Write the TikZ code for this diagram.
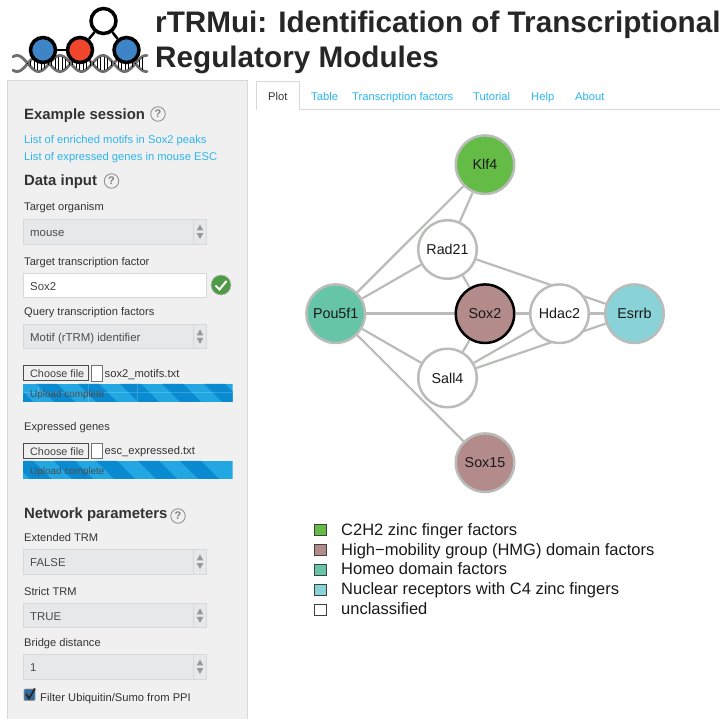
\documentclass[tikz,border=0pt]{standalone}
\usepackage{fontspec}
\setmainfont{Liberation Sans}
\usetikzlibrary{backgrounds}
\definecolor{panelbg}{HTML}{F0F0F0}
\definecolor{panelln}{HTML}{D8D8D8}
\definecolor{selbg}{HTML}{E6E8EA}
\definecolor{selln}{HTML}{D6D8DA}
\definecolor{ink}{HTML}{333333}
\definecolor{linkc}{HTML}{2BB5EE}
\definecolor{edgec}{HTML}{B9BCB9}
\definecolor{tfgreen}{HTML}{64BC46}
\definecolor{tfhmg}{HTML}{B38B8A}
\definecolor{tfhomeo}{HTML}{66C5A8}
\definecolor{tfnr}{HTML}{89D2D8}
\definecolor{barlight}{HTML}{22A7E2}
\definecolor{bardark}{HTML}{0A8AD0}
\definecolor{logoblue}{HTML}{3D85C6}
\definecolor{logored}{HTML}{F0452B}
\definecolor{okgreen}{HTML}{4E9A47}
\definecolor{helix}{HTML}{6E6E6E}
\newcommand{\fsz}[1]{\fontsize{#1}{#1}\selectfont}
\tikzset{
  x=1pt,y=-1pt,
  txt/.style={inner sep=0pt,anchor=base west,yshift=-1pt,text=ink,font=\fsz{11.1}},
  hd/.style={txt,font=\fsz{14.9}\bfseries},
  lnk/.style={txt,text=linkc,font=\fsz{11.2}},
  tab/.style={txt,text=linkc,font=\fsz{11.2}},
  titletxt/.style={inner sep=0pt,anchor=base west,text=black!85,font=\fsz{29.7}\bfseries},
  tf/.style={circle,draw=edgec,line width=2.5pt,minimum size=58.5pt,inner sep=0pt,font=\fsz{14.3},text=black!90},
  edgeline/.style={draw=edgec,line width=2.2pt},
  edgethick/.style={draw=edgec,line width=3pt},
  legbox/.style={draw=black!75,line width=.8pt,minimum width=12.5pt,minimum height=11pt,inner sep=0pt},
  legtxt/.style={inner sep=0pt,anchor=base west,text=black!90,font=\fsz{16.5}},
  logonode/.style={circle,draw=black,line width=3.5pt,minimum size=25pt,inner sep=0pt},
  helpmark/.style={circle,draw=black!45,fill=panelbg,line width=.8pt,minimum size=14.5pt,inner sep=0pt,font=\fsz{11}\bfseries,text=black!50},
  btn/.style={draw=black!70,fill=panelbg,line width=.8pt},
}
\newcommand{\selbox}[4]{% name, top, bottom, text
  \draw[fill=selbg,draw=selln,line width=.9pt] (23.5,#2) rectangle (206.7,#3);
  \draw[selln,line width=.9pt] (193,#2) -- (193,#3);
  \pgfmathsetmacro{\ymid}{(#2+#3)/2}
  \fill[black!40] (196.7,\ymid-1.3) -- (203.3,\ymid-1.3) -- (200,\ymid-7.3) -- cycle;
  \fill[black!40] (196.7,\ymid+1.3) -- (203.3,\ymid+1.3) -- (200,\ymid+7.3) -- cycle;
  \node[txt,text=black!70,font=\fsz{11.4}] (#1) at (30,\ymid+3.5) {#4};
}
\newcommand{\upbar}[4]{% name, top, phase, extra drawing under the text
  \begin{scope}
    \clip (23,#2) rectangle (232.7,#2+18);
    \fill[barlight] (23,#2) rectangle (232.7,#2+18);
    \foreach \k in {0,...,5} {
      \fill[bardark] ({#3+\k*42},#2) -- ++(21,0) -- ++(18,18) -- ++(-21,0) -- cycle;
    }
    #4
  \end{scope}
  \node[txt,text=black!70,font=\fsz{9.9}] (#1) at (30,#2+12.5) {Upload complete};
}
\begin{document}
\begin{tikzpicture}
\useasboundingbox (0,0) rectangle (724,719);
% logo
\draw[helix,line width=2.8pt,line cap=round,domain=13:147,samples=120,smooth] plot (\x,{63.5-8*cos((\x-60)*8.372)});
\draw[helix,line width=2.8pt,line cap=round,domain=13:147,samples=120,smooth] plot (\x,{63.5+8*cos((\x-60)*8.372)});
\foreach \xx in {27,30.5,...,143} {
  \draw[black,line width=.6pt] (\xx,{63.5-7*abs(cos((\xx-60)*8.372))}) -- (\xx,{63.5+7*abs(cos((\xx-60)*8.372))});
}
\node[logonode,fill=white] (lgtop) at (103.5,21) {};
\node[logonode,fill=logoblue] (lga) at (43,50) {};
\node[logonode,fill=logored] (lgb) at (80,50) {};
\node[logonode,fill=logoblue] (lgc) at (126.5,50) {};
\draw[black,line width=2.5pt] (lga) -- (lgb);
\draw[black,line width=2.5pt] (lgb) -- (lgtop);
\draw[black,line width=2.5pt] (lgc) -- (lgtop);
% title
\node[titletxt] (t1) at (155,33) {rTRMui: Identification of Transcriptional};
\node[titletxt] (t2) at (155,68) {Regulatory Modules};
% panel
\draw[fill=panelbg,draw=panelln,line width=1pt] (7.5,719.5) -- (7.5,81) -- (247.7,81) -- (247.7,719.5);
\node[hd] (h1) at (24,119) {Example session};
\node[helpmark] (q1) at (158,114) {?};
\node[lnk] (l1) at (24,143) {List of enriched motifs in Sox2 peaks};
\node[lnk] (l2) at (24,160) {List of expressed genes in mouse ESC};
\node[hd] (h2) at (24,185) {Data input};
\node[helpmark] (q2) at (111.5,181) {?};
\node[txt] (c1) at (24,210) {Target organism};
\selbox{s1}{219.5}{244}{mouse}
\node[txt] (c2) at (24,265) {Target transcription factor};
\draw[fill=white,draw=selln,line width=.9pt] (23.5,273) rectangle (206.7,297);
\node[txt,text=black!75,font=\fsz{11.4}] (v2) at (30,289.5) {Sox2};
\node[circle,fill=okgreen,draw=black!25,line width=.6pt,minimum size=20pt,inner sep=0pt] (ok) at (221,285) {};
\draw[white,line width=2pt] (215.5,285.5) -- (219.5,289.5) -- (226.5,281);
\node[txt] (c3) at (24,315) {Query transcription factors};
\selbox{s3}{324.5}{348.7}{Motif (rTRM) identifier}
\draw[btn] (23.5,365.5) rectangle (88,380.7);
\node[txt,text=black!75,font=\fsz{10.8}] (b1) at (30,376.5) {Choose file};
\draw[draw=black!55,fill=white,line width=.8pt] (91.5,365.5) rectangle (102.2,381);
\node[txt,font=\fsz{11.2}] (f1) at (104.5,376.5) {sox2\_motifs.txt};
\upbar{u1}{384}{-6}{\draw[white,opacity=.18,line width=.5pt] (38,384) -- (38,402) (88,384) -- (88,402) (137,384) -- (137,402) (23,392.7) -- (232.7,392.7);}
\node[txt] (c4) at (24,430) {Expressed genes};
\draw[btn] (23.5,443.5) rectangle (88,458.7);
\node[txt,text=black!75,font=\fsz{10.8}] (b2) at (30,454.5) {Choose file};
\draw[draw=black!55,fill=white,line width=.8pt] (91.5,443.5) rectangle (102.2,458.7);
\node[txt,font=\fsz{11.2}] (f2) at (104.5,454) {esc\_expressed.txt};
\upbar{u2}{461}{-30}{}
\node[hd] (h3) at (24,518) {Network parameters};
\node[helpmark] (q3) at (178,516) {?};
\node[txt] (c5) at (24,541) {Extended TRM};
\selbox{s5}{549.5}{574}{FALSE}
\node[txt] (c6) at (24,595) {Strict TRM};
\selbox{s6}{603.5}{627.7}{TRUE}
\node[txt] (c7) at (24,646) {Bridge distance};
\selbox{s7}{654.5}{679}{1}
\draw[fill=logoblue!80!black,draw=black!40,line width=.6pt,rounded corners=1pt] (24,689) rectangle (35,700.5);
\draw[black!85,line width=1.8pt] (26,694) -- (29,698.5) -- (35,688.5);
\node[txt,font=\fsz{11.2}] (c8) at (40,700) {Filter Ubiquitin/Sumo from PPI};
% tabs
\draw[panelln,line width=1pt] (299.5,110) -- (720,110);
\draw[panelln,line width=1pt] (256,110) -- (256,82) -- (299.5,82) -- (299.5,110);
\node[txt,font=\fsz{11.2}] (tb0) at (268,100) {Plot};
\node[tab] (tb1) at (311,100) {Table};
\node[tab] (tb2) at (352,100) {Transcription factors};
\node[tab] (tb3) at (473,100) {Tutorial};
\node[tab] (tb4) at (531,100) {Help};
\node[tab] (tb5) at (575,100) {About};
% network
\node[tf,fill=tfgreen] (klf) at (485,164.7) {Klf4};
\node[tf,fill=white] (rad) at (447.5,249.5) {Rad21};
\node[tf,fill=tfhomeo] (pou) at (335.7,313.7) {Pou5f1};
\node[tf,fill=tfhmg,draw=black] (sox) at (485,313.7) {Sox2};
\node[tf,fill=white] (hda) at (559.5,313.7) {Hdac2};
\node[tf,fill=tfnr] (esr) at (634.5,313.7) {Esrrb};
\node[tf,fill=white] (sal) at (447.5,378) {Sall4};
\node[tf,fill=tfhmg] (s15) at (485,462.7) {Sox15};
\begin{pgfonlayer}{background}
\draw[edgeline] (pou) -- (klf);
\draw[edgeline] (rad) -- (klf);
\draw[edgeline] (pou) -- (rad);
\draw[edgeline] (rad) -- (sox);
\draw[edgeline] (rad) -- (esr);
\draw[edgethick] (pou) -- (sox);
\draw[edgethick] (sox) -- (esr);
\draw[edgeline] (pou) -- (sal);
\draw[edgeline] (pou) -- (s15);
\draw[edgeline] (sal) -- (sox);
\draw[edgeline] (sal) -- (hda);
\draw[edgeline] (sal) -- (esr);
\end{pgfonlayer}
% legend
\node[legbox,fill=tfgreen] (k1) at (320.5,530) {};
\node[legtxt] (n1) at (341,535.5) {C2H2 zinc finger factors};
\node[legbox,fill=tfhmg] (k2) at (320.5,549.5) {};
\node[legtxt] (n2) at (341,555.5) {High−mobility group (HMG) domain factors};
\node[legbox,fill=tfhomeo] (k3) at (320.5,569.5) {};
\node[legtxt] (n3) at (341,575) {Homeo domain factors};
\node[legbox,fill=tfnr] (k4) at (320.5,589.5) {};
\node[legtxt] (n4) at (341,594.5) {Nuclear receptors with C4 zinc fingers};
\node[legbox,fill=white] (k5) at (320.5,609.5) {};
\node[legtxt] (n5) at (341,614.5) {unclassified};
\end{tikzpicture}
\end{document}
